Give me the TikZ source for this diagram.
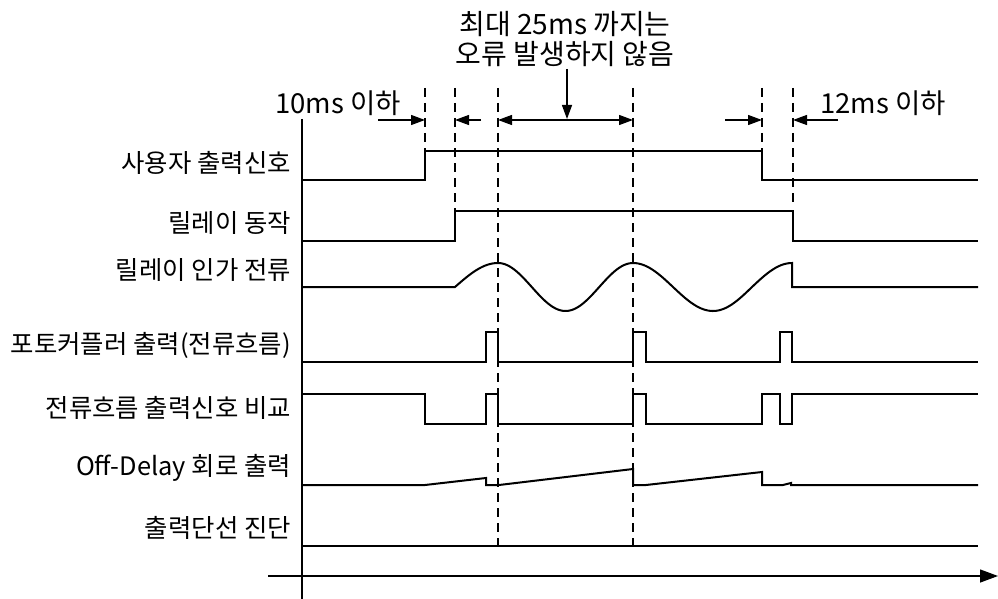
\documentclass[tikz,border=0pt]{standalone}
\usepackage{fontspec}
\setmainfont{Noto Sans CJK KR}
\usetikzlibrary{arrows.meta}
\begin{document}
\begin{tikzpicture}[x=1pt,y=-1pt,
  sig/.style={line width=2pt, line join=miter},
  guide/.style={line width=1.3pt, dash pattern=on 9pt off 6pt},
  axis/.style={line width=1.3pt},
  dim/.style={line width=1.3pt, -{Triangle[length=14pt,width=10pt]}},
  dimboth/.style={line width=1.3pt, {Triangle[length=14pt,width=10pt]}-{Triangle[length=14pt,width=10pt]}},
  lbl/.style={anchor=east, inner sep=0pt, font=\fontsize{25.4}{28}\selectfont},
  ann/.style={inner sep=0pt, font=\fontsize{28}{30}\selectfont, align=center},
  annsm/.style={inner sep=0pt, font=\fontsize{27.5}{30}\selectfont}]
\useasboundingbox (0,0) rectangle (998,599);

% labels
\node[lbl] (l1) at (291,163) {사용자 출력신호};
\node[lbl] (l2) at (291,223) {릴레이 동작};
\node[lbl] (l3) at (291,270) {릴레이 인가 전류};
\node[lbl] (l4) at (291,345) {포토커플러 출력(전류흐름)};
\node[lbl] (l5) at (291,408) {전류흐름 출력신호 비교};
\node[lbl] (l6) at (291,468) {Off-Delay 회로 출력};
\node[lbl] (l7) at (291,528) {출력단선 진단};

% annotations
\node[ann] (top) at (565,39) {최대 25ms 까지는\\오류 발생하지 않음};
\node[annsm] (t10) at (338,103) {10ms 이하};
\node[annsm] (t12) at (883,103) {12ms 이하};

% axes
\coordinate (vt) at (302,119);
\coordinate (vb) at (302,599);
\coordinate (hl) at (268,576);
\coordinate (hr) at (998,576);
\draw[axis] (vt) -- (vb);
\draw[axis, -{Triangle[length=18pt,width=13pt]}] (hl) -- (hr);

% dashed guides
\draw[guide] (425,88) -- (425,151);
\draw[guide] (455,88) -- (455,211);
\draw[guide] (498,88) -- (498,546);
\draw[guide] (633,88) -- (633,546);
\draw[guide] (762,88) -- (762,180);
\draw[guide] (793,88) -- (793,205);

% dimension arrows
\draw[dim] (378,120) -- (425,120);
\draw[dim] (481,120) -- (455,120);
\draw[dimboth] (498,120) -- (633,120);
\draw[dim] (725,120) -- (762,120);
\draw[dim] (838,120) -- (793,120);
\draw[dim] (567,69) -- (567,119);

% signals
\draw[sig] (302,180) -- (425,180) -- (425,151) -- (762,151) -- (762,180) -- (978,180);
\draw[sig] (302,241) -- (455,241) -- (455,211) -- (793,211) -- (793,241) -- (978,241);
\draw[sig] (302,287) -- (455,287)
  -- plot[domain=455:498,samples=20] (\x,{287-24*sin((\x-455)/43*90)})
  -- plot[domain=498:633,samples=60] (\x,{287-24*cos((\x-498)/135*360)})
  -- plot[domain=633:713,samples=35] (\x,{287-24*cos((\x-633)/80*180)})
  -- plot[domain=713:752,samples=20] (\x,{287+24*cos((\x-713)/39*90)})
  -- plot[domain=752:792,samples=20] (\x,{287-24*sin((\x-752)/40*90)})
  -- (792,287) -- (978,287);
\draw[sig] (302,362) -- (486,362) -- (486,332) -- (498,332) -- (498,362)
  -- (633,362) -- (633,332) -- (646,332) -- (646,362)
  -- (780,362) -- (780,332) -- (792,332) -- (792,362) -- (978,362);
\draw[sig] (302,394) -- (425,394) -- (425,424) -- (486,424) -- (486,394) -- (498,394) -- (498,424)
  -- (633,424) -- (633,394) -- (646,394) -- (646,424)
  -- (762,424) -- (762,394) -- (780,394) -- (780,424) -- (792,424) -- (792,394) -- (978,394);
\draw[sig] (302,485) -- (425,485) -- (486,478) -- (486,485) -- (499,485) -- (633,469) -- (633,485)
  -- (646,485) -- (762,472) -- (762,485) -- (783,485) -- (791,483) -- (791,485) -- (978,485);
\draw[sig] (302,546) -- (978,546);
\end{tikzpicture}
\end{document}
